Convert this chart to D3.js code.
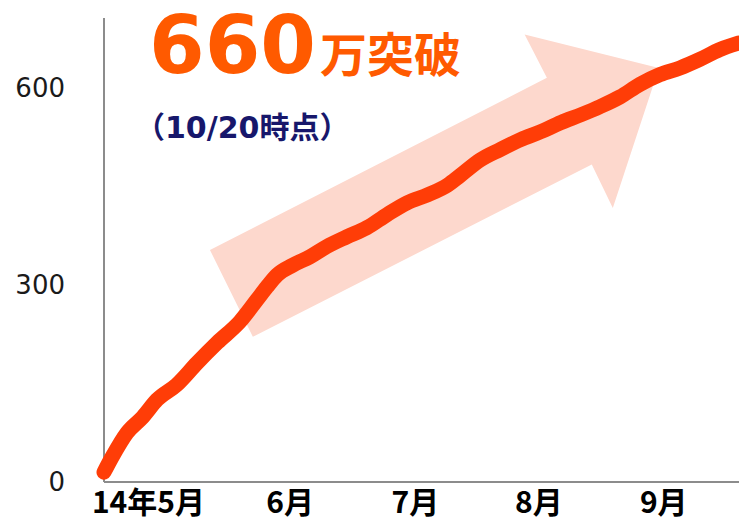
<!DOCTYPE html>
<html>
<head>
<meta charset="utf-8">
<script src="https://cdn.jsdelivr.net/npm/d3@7"></script>
<style>
  body { margin: 0; background: #fff; }
  svg { display: block; }
</style>
</head>
<body>
<div id="container"></div>
<script>
var width = 739,
    height = 517;

// days since 2014-05-01, cumulative count (万)
var days = [0, 2, 5.7, 9.6, 13.1, 18, 23, 28, 33.6, 37.8, 40.3, 42.8, 46.7, 51, 55, 60, 65, 70, 75, 80,
            85, 88, 93, 98, 103, 108, 113, 118, 122.6, 127.6, 132.5, 137.5, 142.4, 147.3, 152.3, 157];
var values = [15, 38, 75, 99, 125, 148, 181, 212, 244, 277, 297, 315, 330, 343, 358, 373, 387, 407, 425, 437,
              452, 466, 490, 506, 521, 533, 547, 559, 571, 586, 605, 620, 630, 643, 658, 668];

var yTicks = [0, 300, 600];
var monthLabels = ["14年5月", "6月", "7月", "8月", "9月"];
var monthDays = [11, 46, 77, 107.5, 138.4];

// background arrow outline, in (day, value)
var arrowDays = [26.2, 36.8, 120.6, 125.8, 137.2, 104, 109.5];
var arrowValues = [353, 221, 483, 417, 630, 681, 615];

var svg = d3.select('#container').append('svg')
    .attr("width", width)
    .attr("height", height);

var x = d3.scaleLinear()
    .domain([0, 157])
    .range([104, 739]);

var y = d3.scaleLinear()
    .domain([0, 706])
    .range([482, 18]);

// arrow
svg.append("polygon")
    .attr("points", arrowDays.map(function(d, i) {
      return x(d) + "," + y(arrowValues[i]);
    }).join(" "))
    .style("fill", "#fdd8cd");

// axes
svg.append("line")
    .attr("x1", x(0)).attr("x2", x(0))
    .attr("y1", y(706)).attr("y2", y(0))
    .style("stroke", "#8c8c8c")
    .style("stroke-width", 2);

svg.append("line")
    .attr("x1", x(0)).attr("x2", width)
    .attr("y1", y(0)).attr("y2", y(0))
    .style("stroke", "#8c8c8c")
    .style("stroke-width", 2);

svg.selectAll(".ytick")
    .data(yTicks)
    .enter()
    .append("text")
    .attr("class", "ytick")
    .attr("x", 65)
    .attr("y", function(d) { return y(d); })
    .attr("dy", "0.36em")
    .attr("text-anchor", "end")
    .style("font-family", "'DejaVu Sans', Verdana, sans-serif")
    .style("font-size", "26px")
    .style("fill", "#1a1a1a")
    .text(function(d) { return d; });

svg.selectAll(".xtick")
    .data(monthLabels)
    .enter()
    .append("text")
    .attr("class", "xtick")
    .attr("x", function(d, i) { return x(monthDays[i]); })
    .attr("y", 513)
    .attr("text-anchor", "middle")
    .style("font-family", "'Noto Sans CJK JP', sans-serif")
    .style("font-weight", "bold")
    .style("font-size", "30px")
    .style("fill", "#000")
    .text(function(d) { return d; });

// the line
var line = d3.line()
    .x(function(d, i) { return x(days[i]); })
    .y(function(d) { return y(d); })
    .curve(d3.curveMonotoneX);

svg.append("path")
    .datum(values)
    .attr("d", line)
    .style("fill", "none")
    .style("stroke", "#ff3d07")
    .style("stroke-width", 15)
    .style("stroke-linecap", "round")
    .style("stroke-linejoin", "round");

// headline
var title = svg.append("text")
    .attr("x", 149)
    .attr("y", 73)
    .style("font-family", "'DejaVu Sans', 'Noto Sans CJK JP', sans-serif")
    .style("font-weight", "bold")
    .style("fill", "#ff5a00");
title.append("tspan")
    .style("font-size", "80px")
    .text("660");
title.append("tspan")
    .attr("dx", 4)
    .attr("dy", -1)
    .style("font-family", "'Noto Sans CJK JP', sans-serif")
    .style("font-size", "47px")
    .text("万突破");

svg.append("text")
    .attr("x", 135)
    .attr("y", 138)
    .style("font-family", "'DejaVu Sans', 'Noto Sans CJK JP', sans-serif")
    .style("font-weight", "bold")
    .style("font-size", "30px")
    .style("fill", "#17176b")
    .text("（10/20時点）");
</script>
</body>
</html>
